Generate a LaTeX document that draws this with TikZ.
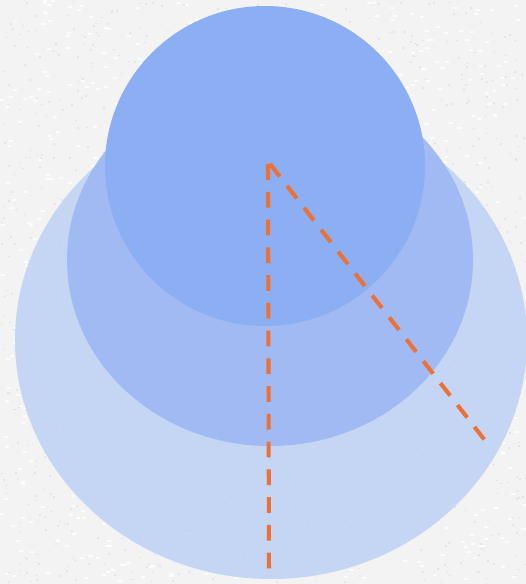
\documentclass[tikz,border=0pt]{standalone}
\usepackage{tikz}
\usetikzlibrary{calc}
\definecolor{paper}{HTML}{F3F3F3}
\definecolor{speck}{HTML}{DCDCDC}
\definecolor{outerdisc}{HTML}{BDD0F5}
\definecolor{middisc}{HTML}{A0B9F3}
\definecolor{topdisc}{HTML}{8CAEF2}
\definecolor{ray}{HTML}{EB7234}

\tikzset{
  raydash/.style={draw=ray, line width=2.3pt, dash pattern=on 9pt off 6.8pt}
}

\begin{document}
\begin{tikzpicture}[x=0.02cm, y=-0.02cm]
  % paper background
  \fill[paper] (0,0) rectangle (526,584);
  \useasboundingbox (0,0) rectangle (526,584);
  \pgfmathsetseed{42}
  \foreach \i in {1,...,1400} {
    \pgfmathsetmacro\px{rnd*524}
    \pgfmathsetmacro\py{rnd*582}
    \fill[speck, opacity=0.6] (\px,\py) rectangle ++(2,1.5);
  }
  \foreach \i in {1,...,900} {
    \pgfmathsetmacro\px{rnd*522}
    \pgfmathsetmacro\py{rnd*580}
    \fill[white, opacity=0.8] (\px,\py) rectangle ++(4,2);
  }
  % centres
  \coordinate (big) at (271,340);
  \coordinate (mid) at (270,260);
  \coordinate (top) at (265,166);
  % discs
  \fill[outerdisc, fill opacity=0.85] (big) ellipse [x radius=256, y radius=239];
  \fill[middisc, fill opacity=0.95] (mid) ellipse [x radius=203, y radius=186];
  \fill[topdisc] (top) circle (160);
  % dashed rays
  \coordinate (apex) at (268,164);
  \coordinate (foot) at (269,575);
  \coordinate (tip) at (487,443);
  \draw[raydash] (apex) -- (foot);
  \draw[raydash] ($(apex)+(2,0)$) -- (tip);
\end{tikzpicture}
\end{document}
